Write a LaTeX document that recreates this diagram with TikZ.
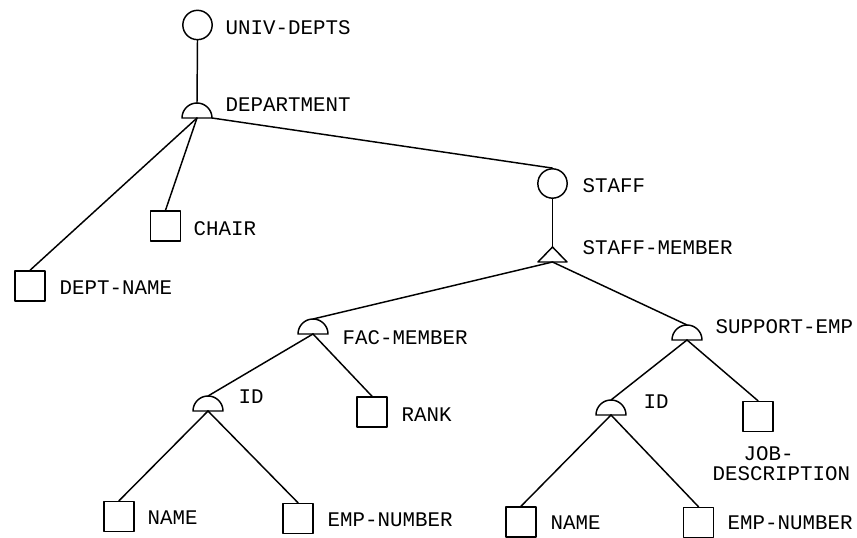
\documentclass[tikz,border=0pt]{standalone}
\usepackage{fontspec}
\newfontfamily\plotfont{Liberation Mono}
\begin{document}
\begin{tikzpicture}[x=0.75pt,y=-0.75pt,
  line width=1.1pt, line cap=round, line join=round,
  entbox/.style={draw, rectangle, minimum size=22.5pt, inner sep=0pt},
  setcirc/.style={draw, circle, minimum size=22pt, inner sep=0pt},
  lbl/.style={anchor=west, inner sep=0pt, text height=8.8pt, text depth=0pt,
     font=\plotfont\fontsize{15.6pt}{18pt}\selectfont}]
\useasboundingbox (0,0) rectangle (857,538);
\newcommand\mysemi[1]{\draw (#1) ++(-15,0) arc[start angle=180,end angle=360,radius=15] -- cycle;}
% set nodes (circles)
\node[setcirc] (univ) at (197.5,25) {};
\node[setcirc] (staff) at (552.5,183.5) {};
% semicircles: base-centre coordinates and tops
\coordinate (dep) at (197,118);   \coordinate (depT) at (197,103); \coordinate (depR) at (212,118);
\coordinate (fac) at (313,334);   \coordinate (facT) at (313,319);
\coordinate (idl) at (208,411);   \coordinate (idlT) at (208,396);
\coordinate (sup) at (687,340);   \coordinate (supT) at (687,325);
\coordinate (idr) at (611,415);   \coordinate (idrT) at (611,400);
\mysemi{dep}\mysemi{fac}\mysemi{idl}\mysemi{sup}\mysemi{idr}
% triangle
\coordinate (tri) at (552.5,247); \coordinate (triB) at (552.5,262);
\draw (tri) -- ++(-14.5,15) -- ++(29,0) -- cycle;
% boxes
\node[entbox] (dname) at (30,286) {};
\node[entbox] (chair) at (165.5,226) {};
\node[entbox] (rank) at (372,412) {};
\node[entbox] (namel) at (119,516.5) {};
\node[entbox] (empl) at (298,518.5) {};
\node[entbox] (job) at (758,416.5) {};
\node[entbox] (namer) at (521,522) {};
\node[entbox] (empr) at (698.5,522.5) {};
% connectors
\draw (univ.south) -- (depT);
\draw (dep) -- (dname.north);
\draw (dep) -- (chair.north);
\draw (depR) -- (staff.north);
\draw (staff.south) -- (tri);
\draw (triB) -- (facT);
\draw (triB) -- (supT);
\draw (fac) -- (idlT);
\draw (fac) -- (rank.north);
\draw (idl) -- (namel.north);
\draw (idl) -- (empl.north);
\draw (sup) -- (idrT);
\draw (sup) -- (job.north);
\draw (idr) -- (namer.north);
\draw (idr) -- (empr.north);
% labels
\node[lbl] (tuniv) at (225,29) {UNIV-DEPTS};
\node[lbl] (tdep) at (225,106) {DEPARTMENT};
\node[lbl] (tstaff) at (582,187) {STAFF};
\node[lbl] (tsm) at (582,249) {STAFF-MEMBER};
\node[lbl] (tchair) at (193,230) {CHAIR};
\node[lbl] (tdname) at (59,289) {DEPT-NAME};
\node[lbl] (tfac) at (342,339) {FAC-MEMBER};
\node[lbl] (trank) at (401,416) {RANK};
\node[lbl] (tidl) at (238,398) {ID};
\node[lbl] (tnamel) at (147,519) {NAME};
\node[lbl] (templ) at (327,521) {EMP-NUMBER};
\node[lbl] (tsup) at (715,328) {SUPPORT-EMP};
\node[lbl] (tidr) at (643,403) {ID};
\node[lbl] (tjob) at (743,455) {JOB-};
\node[lbl] (tdesc) at (712,475) {DESCRIPTION};
\node[lbl] (tnamer) at (550,524) {NAME};
\node[lbl] (tempr) at (727,524) {EMP-NUMBER};
\end{tikzpicture}
\end{document}
